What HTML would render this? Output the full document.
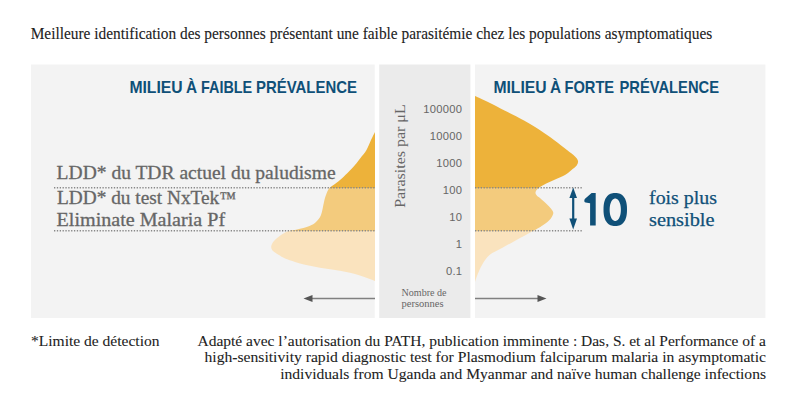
<!DOCTYPE html>
<html><head><meta charset="utf-8"><style>
html,body{margin:0;padding:0;background:#fff;}
body{width:800px;height:400px;overflow:hidden;}
svg{display:block;}
.serif{font-family:"Liberation Serif",serif;}
.sans{font-family:"Liberation Sans",sans-serif;}
</style></head><body>
<svg width="800" height="400" viewBox="0 0 800 400">
<defs>
<clipPath id="cL1"><rect x="200" y="60" width="175" height="128"/></clipPath>
<clipPath id="cL2"><rect x="200" y="188" width="175" height="43"/></clipPath>
<clipPath id="cL3"><rect x="200" y="231" width="175" height="90"/></clipPath>
<clipPath id="cR1"><rect x="475" y="60" width="200" height="128"/></clipPath>
<clipPath id="cR2"><rect x="475" y="188" width="200" height="43"/></clipPath>
<clipPath id="cR3"><rect x="475" y="231" width="200" height="90"/></clipPath>
</defs>
<rect x="0" y="0" width="800" height="400" fill="#fff"/>
<rect x="31" y="64.5" width="343.7" height="253.5" fill="#f3f3f3"/>
<rect x="379.2" y="64.5" width="91.2" height="253.5" fill="#ebebeb"/>
<rect x="475" y="64.5" width="290.4" height="253.5" fill="#f3f3f3"/>

<path d="M375.00,132.00 C374.33,133.33 372.42,137.00 371.00,140.00 C369.58,143.00 368.25,147.00 366.50,150.00 C364.75,153.00 362.42,155.50 360.50,158.00 C358.58,160.50 357.17,162.50 355.00,165.00 C352.83,167.50 350.00,170.50 347.50,173.00 C345.00,175.50 342.33,178.00 340.00,180.00 C337.67,182.00 335.33,183.58 333.50,185.00 C331.67,186.42 330.25,186.83 329.00,188.50 C327.75,190.17 326.83,192.75 326.00,195.00 C325.17,197.25 324.83,198.67 324.00,202.00 C323.17,205.33 322.33,211.67 321.00,215.00 C319.67,218.33 317.92,220.17 316.00,222.00 C314.08,223.83 312.67,224.75 309.50,226.00 C306.33,227.25 300.58,228.62 297.00,229.50 C293.42,230.38 290.67,230.38 288.00,231.30 C285.33,232.22 283.17,233.55 281.00,235.00 C278.83,236.45 276.50,238.50 275.00,240.00 C273.50,241.50 272.63,242.75 272.00,244.00 C271.37,245.25 271.12,246.42 271.20,247.50 C271.28,248.58 271.87,249.67 272.50,250.50 C273.13,251.33 273.92,251.75 275.00,252.50 C276.08,253.25 277.33,254.00 279.00,255.00 C280.67,256.00 282.33,257.35 285.00,258.50 C287.67,259.65 291.67,260.87 295.00,261.90 C298.33,262.93 301.67,263.88 305.00,264.70 C308.33,265.52 311.67,266.15 315.00,266.80 C318.33,267.45 321.67,268.07 325.00,268.60 C328.33,269.13 331.67,269.47 335.00,270.00 C338.33,270.53 341.67,271.13 345.00,271.80 C348.33,272.47 351.67,273.08 355.00,274.00 C358.33,274.92 361.67,276.13 365.00,277.30 C368.33,278.47 373.33,280.38 375.00,281.00 L375,281 Z" fill="#edb23a" clip-path="url(#cL1)"/>
<path d="M375.00,132.00 C374.33,133.33 372.42,137.00 371.00,140.00 C369.58,143.00 368.25,147.00 366.50,150.00 C364.75,153.00 362.42,155.50 360.50,158.00 C358.58,160.50 357.17,162.50 355.00,165.00 C352.83,167.50 350.00,170.50 347.50,173.00 C345.00,175.50 342.33,178.00 340.00,180.00 C337.67,182.00 335.33,183.58 333.50,185.00 C331.67,186.42 330.25,186.83 329.00,188.50 C327.75,190.17 326.83,192.75 326.00,195.00 C325.17,197.25 324.83,198.67 324.00,202.00 C323.17,205.33 322.33,211.67 321.00,215.00 C319.67,218.33 317.92,220.17 316.00,222.00 C314.08,223.83 312.67,224.75 309.50,226.00 C306.33,227.25 300.58,228.62 297.00,229.50 C293.42,230.38 290.67,230.38 288.00,231.30 C285.33,232.22 283.17,233.55 281.00,235.00 C278.83,236.45 276.50,238.50 275.00,240.00 C273.50,241.50 272.63,242.75 272.00,244.00 C271.37,245.25 271.12,246.42 271.20,247.50 C271.28,248.58 271.87,249.67 272.50,250.50 C273.13,251.33 273.92,251.75 275.00,252.50 C276.08,253.25 277.33,254.00 279.00,255.00 C280.67,256.00 282.33,257.35 285.00,258.50 C287.67,259.65 291.67,260.87 295.00,261.90 C298.33,262.93 301.67,263.88 305.00,264.70 C308.33,265.52 311.67,266.15 315.00,266.80 C318.33,267.45 321.67,268.07 325.00,268.60 C328.33,269.13 331.67,269.47 335.00,270.00 C338.33,270.53 341.67,271.13 345.00,271.80 C348.33,272.47 351.67,273.08 355.00,274.00 C358.33,274.92 361.67,276.13 365.00,277.30 C368.33,278.47 373.33,280.38 375.00,281.00 L375,281 Z" fill="#f3cb7d" clip-path="url(#cL2)"/>
<path d="M375.00,132.00 C374.33,133.33 372.42,137.00 371.00,140.00 C369.58,143.00 368.25,147.00 366.50,150.00 C364.75,153.00 362.42,155.50 360.50,158.00 C358.58,160.50 357.17,162.50 355.00,165.00 C352.83,167.50 350.00,170.50 347.50,173.00 C345.00,175.50 342.33,178.00 340.00,180.00 C337.67,182.00 335.33,183.58 333.50,185.00 C331.67,186.42 330.25,186.83 329.00,188.50 C327.75,190.17 326.83,192.75 326.00,195.00 C325.17,197.25 324.83,198.67 324.00,202.00 C323.17,205.33 322.33,211.67 321.00,215.00 C319.67,218.33 317.92,220.17 316.00,222.00 C314.08,223.83 312.67,224.75 309.50,226.00 C306.33,227.25 300.58,228.62 297.00,229.50 C293.42,230.38 290.67,230.38 288.00,231.30 C285.33,232.22 283.17,233.55 281.00,235.00 C278.83,236.45 276.50,238.50 275.00,240.00 C273.50,241.50 272.63,242.75 272.00,244.00 C271.37,245.25 271.12,246.42 271.20,247.50 C271.28,248.58 271.87,249.67 272.50,250.50 C273.13,251.33 273.92,251.75 275.00,252.50 C276.08,253.25 277.33,254.00 279.00,255.00 C280.67,256.00 282.33,257.35 285.00,258.50 C287.67,259.65 291.67,260.87 295.00,261.90 C298.33,262.93 301.67,263.88 305.00,264.70 C308.33,265.52 311.67,266.15 315.00,266.80 C318.33,267.45 321.67,268.07 325.00,268.60 C328.33,269.13 331.67,269.47 335.00,270.00 C338.33,270.53 341.67,271.13 345.00,271.80 C348.33,272.47 351.67,273.08 355.00,274.00 C358.33,274.92 361.67,276.13 365.00,277.30 C368.33,278.47 373.33,280.38 375.00,281.00 L375,281 Z" fill="#fae3be" clip-path="url(#cL3)"/>
<path d="M475.00,96.00 C477.50,97.17 485.08,100.58 490.00,103.00 C494.92,105.42 498.83,107.58 504.50,110.50 C510.17,113.42 518.00,117.17 524.00,120.50 C530.00,123.83 535.50,127.25 540.50,130.50 C545.50,133.75 549.58,136.75 554.00,140.00 C558.42,143.25 563.50,147.25 567.00,150.00 C570.50,152.75 573.17,154.67 575.00,156.50 C576.83,158.33 577.72,159.50 578.00,161.00 C578.28,162.50 577.78,164.00 576.70,165.50 C575.62,167.00 573.45,168.42 571.50,170.00 C569.55,171.58 567.92,173.33 565.00,175.00 C562.08,176.67 557.58,178.33 554.00,180.00 C550.42,181.67 546.25,183.50 543.50,185.00 C540.75,186.50 538.83,187.75 537.50,189.00 C536.17,190.25 535.62,191.42 535.50,192.50 C535.38,193.58 536.05,194.58 536.80,195.50 C537.55,196.42 538.72,196.92 540.00,198.00 C541.28,199.08 543.07,200.67 544.50,202.00 C545.93,203.33 547.35,204.67 548.60,206.00 C549.85,207.33 551.22,208.83 552.00,210.00 C552.78,211.17 553.33,211.83 553.30,213.00 C553.27,214.17 552.52,215.75 551.80,217.00 C551.08,218.25 550.55,219.08 549.00,220.50 C547.45,221.92 545.00,223.83 542.50,225.50 C540.00,227.17 538.33,228.08 534.00,230.50 C529.67,232.92 521.83,237.08 516.50,240.00 C511.17,242.92 506.50,245.50 502.00,248.00 C497.50,250.50 492.83,252.17 489.50,255.00 C486.17,257.83 484.08,261.50 482.00,265.00 C479.92,268.50 478.17,273.17 477.00,276.00 C475.83,278.83 475.33,281.00 475.00,282.00 L475,96 Z" fill="#edb23a" clip-path="url(#cR1)"/>
<path d="M475.00,96.00 C477.50,97.17 485.08,100.58 490.00,103.00 C494.92,105.42 498.83,107.58 504.50,110.50 C510.17,113.42 518.00,117.17 524.00,120.50 C530.00,123.83 535.50,127.25 540.50,130.50 C545.50,133.75 549.58,136.75 554.00,140.00 C558.42,143.25 563.50,147.25 567.00,150.00 C570.50,152.75 573.17,154.67 575.00,156.50 C576.83,158.33 577.72,159.50 578.00,161.00 C578.28,162.50 577.78,164.00 576.70,165.50 C575.62,167.00 573.45,168.42 571.50,170.00 C569.55,171.58 567.92,173.33 565.00,175.00 C562.08,176.67 557.58,178.33 554.00,180.00 C550.42,181.67 546.25,183.50 543.50,185.00 C540.75,186.50 538.83,187.75 537.50,189.00 C536.17,190.25 535.62,191.42 535.50,192.50 C535.38,193.58 536.05,194.58 536.80,195.50 C537.55,196.42 538.72,196.92 540.00,198.00 C541.28,199.08 543.07,200.67 544.50,202.00 C545.93,203.33 547.35,204.67 548.60,206.00 C549.85,207.33 551.22,208.83 552.00,210.00 C552.78,211.17 553.33,211.83 553.30,213.00 C553.27,214.17 552.52,215.75 551.80,217.00 C551.08,218.25 550.55,219.08 549.00,220.50 C547.45,221.92 545.00,223.83 542.50,225.50 C540.00,227.17 538.33,228.08 534.00,230.50 C529.67,232.92 521.83,237.08 516.50,240.00 C511.17,242.92 506.50,245.50 502.00,248.00 C497.50,250.50 492.83,252.17 489.50,255.00 C486.17,257.83 484.08,261.50 482.00,265.00 C479.92,268.50 478.17,273.17 477.00,276.00 C475.83,278.83 475.33,281.00 475.00,282.00 L475,96 Z" fill="#f3cb7d" clip-path="url(#cR2)"/>
<path d="M475.00,96.00 C477.50,97.17 485.08,100.58 490.00,103.00 C494.92,105.42 498.83,107.58 504.50,110.50 C510.17,113.42 518.00,117.17 524.00,120.50 C530.00,123.83 535.50,127.25 540.50,130.50 C545.50,133.75 549.58,136.75 554.00,140.00 C558.42,143.25 563.50,147.25 567.00,150.00 C570.50,152.75 573.17,154.67 575.00,156.50 C576.83,158.33 577.72,159.50 578.00,161.00 C578.28,162.50 577.78,164.00 576.70,165.50 C575.62,167.00 573.45,168.42 571.50,170.00 C569.55,171.58 567.92,173.33 565.00,175.00 C562.08,176.67 557.58,178.33 554.00,180.00 C550.42,181.67 546.25,183.50 543.50,185.00 C540.75,186.50 538.83,187.75 537.50,189.00 C536.17,190.25 535.62,191.42 535.50,192.50 C535.38,193.58 536.05,194.58 536.80,195.50 C537.55,196.42 538.72,196.92 540.00,198.00 C541.28,199.08 543.07,200.67 544.50,202.00 C545.93,203.33 547.35,204.67 548.60,206.00 C549.85,207.33 551.22,208.83 552.00,210.00 C552.78,211.17 553.33,211.83 553.30,213.00 C553.27,214.17 552.52,215.75 551.80,217.00 C551.08,218.25 550.55,219.08 549.00,220.50 C547.45,221.92 545.00,223.83 542.50,225.50 C540.00,227.17 538.33,228.08 534.00,230.50 C529.67,232.92 521.83,237.08 516.50,240.00 C511.17,242.92 506.50,245.50 502.00,248.00 C497.50,250.50 492.83,252.17 489.50,255.00 C486.17,257.83 484.08,261.50 482.00,265.00 C479.92,268.50 478.17,273.17 477.00,276.00 C475.83,278.83 475.33,281.00 475.00,282.00 L475,96 Z" fill="#fae3be" clip-path="url(#cR3)"/>

<g stroke="#888888" stroke-width="1.5" stroke-dasharray="1.3 1.55">
<line x1="54" y1="187.8" x2="375" y2="187.8"/>
<line x1="54" y1="230.7" x2="375" y2="230.7"/>
<line x1="475" y1="187.8" x2="583" y2="187.8"/>
<line x1="475" y1="230.7" x2="583" y2="230.7"/>
</g>

<!-- arrows -->
<g stroke="#808080" stroke-width="1.5" fill="none">
<line x1="311" y1="298.5" x2="375" y2="298.5"/>
<line x1="475" y1="298.5" x2="539" y2="298.5"/>
</g>
<path d="M303.5,298.5 L312.5,295 L312.5,302 Z" fill="#555"/>
<path d="M546.5,298.5 L537.5,295 L537.5,302 Z" fill="#555"/>

<!-- double arrow -->
<line x1="573.2" y1="195" x2="573.2" y2="221" stroke="#0f5078" stroke-width="2.2"/>
<path d="M573.2,187.5 L577,198 L569.4,198 Z" fill="#0f5078"/>
<path d="M573.2,229.5 L577,218.5 L569.4,218.5 Z" fill="#0f5078"/>

<!-- text -->
<text class="serif" x="30.7" y="38.8" font-size="16.5" fill="#222222" stroke="#222222" stroke-width="0.12" textLength="681.5" lengthAdjust="spacingAndGlyphs">Meilleure identification des personnes présentant une faible parasitémie chez les populations asymptomatiques</text>

<g class="sans" font-size="16.2" font-weight="bold" fill="#0f5078">
<text x="129.4" y="93.1" textLength="53.21" lengthAdjust="spacingAndGlyphs">MILIEU</text>
<text x="185.99" y="93.1" textLength="11.1" lengthAdjust="spacingAndGlyphs">À</text>
<text x="201.05" y="93.1" textLength="51.16" lengthAdjust="spacingAndGlyphs">FAIBLE</text>
<text x="256.09" y="93.1" textLength="100.83" lengthAdjust="spacingAndGlyphs">PRÉVALENCE</text>
<text x="493.4" y="93.1" textLength="53.21" lengthAdjust="spacingAndGlyphs">MILIEU</text>
<text x="549.99" y="93.1" textLength="11.1" lengthAdjust="spacingAndGlyphs">À</text>
<text x="564.46" y="93.1" textLength="49.65" lengthAdjust="spacingAndGlyphs">FORTE</text>
<text x="619.53" y="93.1" textLength="99.45" lengthAdjust="spacingAndGlyphs">PRÉVALENCE</text>
</g>

<g class="serif" font-size="19" fill="#666666" stroke="#666666" stroke-width="0.3">
<text x="56.6" y="179.4" textLength="279" lengthAdjust="spacingAndGlyphs">LDD* du TDR actuel du paludisme</text>
<text x="56.96" y="204.3" textLength="162.27" lengthAdjust="spacingAndGlyphs">LDD* du test NxTek</text>
<text x="219.8" y="203.8" font-size="17.5" textLength="16.6" lengthAdjust="spacingAndGlyphs">™</text>
<text x="56.6" y="225.5" textLength="168.5" lengthAdjust="spacingAndGlyphs">Eliminate Malaria Pf</text>
</g>

<text class="serif" transform="translate(405.2,207.8) rotate(-90)" x="0" y="0" font-size="14.5" fill="#666666" textLength="103.5" lengthAdjust="spacingAndGlyphs">Parasites par μL</text>

<g class="sans" font-size="11.2" fill="#666666" text-anchor="end" letter-spacing="0.3">
<text x="462.4" y="112.5">100000</text>
<text x="462.4" y="140">10000</text>
<text x="462.4" y="167">1000</text>
<text x="462.4" y="194">100</text>
<text x="462.4" y="221">10</text>
<text x="462.4" y="248">1</text>
<text x="462.4" y="275">0.1</text>
</g>

<g class="serif" font-size="10" fill="#666666">
<text x="401.5" y="295.8" textLength="45" lengthAdjust="spacingAndGlyphs">Nombre de</text>
<text x="401.5" y="306.5" textLength="42" lengthAdjust="spacingAndGlyphs">personnes</text>
</g>

<path d="M591.6,193.1 L595.7,193.1 L595.7,225.4 L590.1,225.4 L590.1,203.3 L585.6,202.6 Q584.1,202.2 584.3,200.4 Q584.5,199.3 585.3,198.6 Z" fill="#0f5078"/>
<path fill-rule="evenodd" fill="#0f5078" d="M627.00,209.50 L626.96,211.66 L626.85,213.34 L626.67,214.85 L626.41,216.25 L626.08,217.55 L625.67,218.76 L625.20,219.88 L624.66,220.92 L624.05,221.86 L623.38,222.71 L622.64,223.47 L621.84,224.14 L620.98,224.70 L620.06,225.17 L619.06,225.53 L617.98,225.79 L616.79,225.95 L615.25,226.00 L613.71,225.95 L612.52,225.79 L611.44,225.53 L610.44,225.17 L609.52,224.70 L608.66,224.14 L607.86,223.47 L607.12,222.71 L606.45,221.86 L605.84,220.92 L605.30,219.88 L604.83,218.76 L604.42,217.55 L604.09,216.25 L603.83,214.85 L603.65,213.34 L603.54,211.66 L603.50,209.50 L603.54,207.34 L603.65,205.66 L603.83,204.15 L604.09,202.75 L604.42,201.45 L604.83,200.24 L605.30,199.12 L605.84,198.08 L606.45,197.14 L607.12,196.29 L607.86,195.53 L608.66,194.86 L609.52,194.30 L610.44,193.83 L611.44,193.47 L612.52,193.21 L613.71,193.05 L615.25,193.00 L616.79,193.05 L617.98,193.21 L619.06,193.47 L620.06,193.83 L620.98,194.30 L621.84,194.86 L622.64,195.53 L623.38,196.29 L624.05,197.14 L624.66,198.08 L625.20,199.12 L625.67,200.24 L626.08,201.45 L626.41,202.75 L626.67,204.15 L626.85,205.66 L626.96,207.34 Z M620.85,209.75 L620.83,210.85 L620.77,211.86 L620.67,212.84 L620.53,213.78 L620.35,214.68 L620.13,215.54 L619.88,216.35 L619.59,217.10 L619.28,217.80 L618.93,218.44 L618.55,219.01 L618.14,219.52 L617.72,219.95 L617.27,220.31 L616.80,220.59 L616.31,220.79 L615.80,220.91 L615.25,220.95 L614.70,220.91 L614.19,220.79 L613.70,220.59 L613.23,220.31 L612.78,219.95 L612.36,219.52 L611.95,219.01 L611.57,218.44 L611.22,217.80 L610.91,217.10 L610.62,216.35 L610.37,215.54 L610.15,214.68 L609.97,213.78 L609.83,212.84 L609.73,211.86 L609.67,210.85 L609.65,209.75 L609.67,208.65 L609.73,207.64 L609.83,206.66 L609.97,205.72 L610.15,204.82 L610.37,203.96 L610.62,203.15 L610.91,202.40 L611.22,201.70 L611.57,201.06 L611.95,200.49 L612.36,199.98 L612.78,199.55 L613.23,199.19 L613.70,198.91 L614.19,198.71 L614.70,198.59 L615.25,198.55 L615.80,198.59 L616.31,198.71 L616.80,198.91 L617.27,199.19 L617.72,199.55 L618.14,199.98 L618.55,200.49 L618.93,201.06 L619.28,201.70 L619.59,202.40 L619.88,203.15 L620.13,203.96 L620.35,204.82 L620.53,205.72 L620.67,206.66 L620.77,207.64 L620.83,208.65 Z"/>
<g class="serif" font-size="19.3" fill="#0f5078" stroke="#0f5078" stroke-width="0.25">
<text x="649" y="204.3" textLength="68" lengthAdjust="spacingAndGlyphs">fois plus</text>
<text x="649" y="226.3" textLength="65.5" lengthAdjust="spacingAndGlyphs">sensible</text>
</g>

<g class="serif" font-size="15" fill="#222222" stroke="#222222" stroke-width="0.08">
<text x="31" y="345.8" textLength="128.5" lengthAdjust="spacingAndGlyphs">*Limite de détection</text>
<text x="766" y="345.8" text-anchor="end" textLength="568.5" lengthAdjust="spacingAndGlyphs">Adapté avec l’autorisation du PATH, publication imminente : Das, S. et al Performance of a</text>
<text x="766" y="362.3" text-anchor="end" textLength="561.5" lengthAdjust="spacingAndGlyphs">high-sensitivity rapid diagnostic test for Plasmodium falciparum malaria in asymptomatic</text>
<text x="766" y="378.9" text-anchor="end" textLength="485.8" lengthAdjust="spacingAndGlyphs">individuals from Uganda and Myanmar and naïve human challenge infections</text>
</g>
</svg>
</body></html>
